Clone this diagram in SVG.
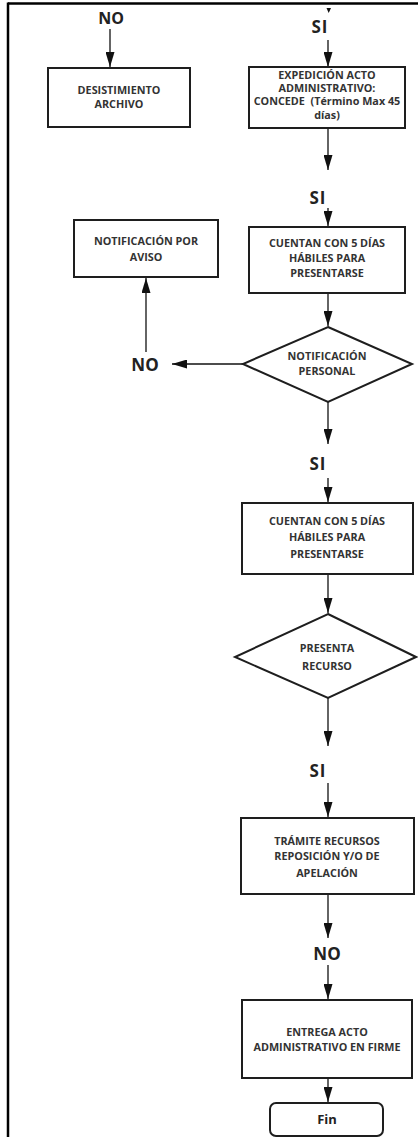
<svg xmlns="http://www.w3.org/2000/svg" width="418" height="1137" viewBox="0 0 418 1137">
<style>
.box{fill:#fff;stroke:#1e1e1e;stroke-width:2}
.t{font-family:"Open Sans","Liberation Sans",sans-serif;font-weight:bold;font-size:10.8px;fill:#333;text-anchor:middle}
.lab{font-family:"Open Sans","Liberation Sans",sans-serif;font-weight:bold;font-size:17px;fill:#222;text-anchor:middle}
.c{stroke:#111;stroke-width:1.3;fill:none;marker-end:url(#ah)}
</style>
<defs>
<marker id="ah" markerUnits="userSpaceOnUse" viewBox="0 0 15 9" refX="15" refY="4.5" markerWidth="15" markerHeight="9" orient="auto">
<path d="M0,0 L15,4.5 L0,9 z" fill="#111"/>
</marker>
</defs>
<rect width="418" height="1137" fill="#fff"/>
<g id="frame">
<line x1="8" y1="3.5" x2="418" y2="3.5" stroke="#000" stroke-width="2.5"/>
<line x1="8" y1="2.5" x2="8" y2="1137" stroke="#000" stroke-width="2.5"/>
</g>
<g id="connectors">
<path class="c" d="M110,29 V67"/>
<path d="M326.5,8 L331,8 L328.7,13 z" fill="#111"/>
<path class="c" d="M328,40 V67"/>
<path class="c" d="M328,128 V170"/>
<path class="c" d="M328,208 V226"/>
<path class="c" d="M328,293 V326"/>
<path class="c" d="M243,364 H172"/>
<path class="c" d="M146,352 V278"/>
<path class="c" d="M328,402 V444"/>
<path class="c" d="M328,478 V502"/>
<path class="c" d="M328,574 V613"/>
<path class="c" d="M328,698 V746"/>
<path class="c" d="M328,783 V817"/>
<path class="c" d="M328,895 V938"/>
<path class="c" d="M328,965 V999"/>
<path class="c" d="M328,1078 V1102"/>
</g>
<g id="labels">
<text class="lab" x="111" y="24" style="font-size:16px">NO</text>
<text class="lab" x="320" y="33" letter-spacing="1">SI</text>
<text class="lab" x="318" y="204" letter-spacing="1">SI</text>
<text class="lab" x="145" y="371">NO</text>
<text class="lab" x="318" y="470" letter-spacing="1">SI</text>
<text class="lab" x="318" y="777" letter-spacing="1">SI</text>
<text class="lab" x="327" y="960">NO</text>
</g>
<g id="desistimiento">
<rect class="box" x="48" y="68" width="142" height="59"/>
<text class="t" x="119" y="94">DESISTIMIENTO</text>
<text class="t" x="119" y="108">ARCHIVO</text>
</g>
<g id="expedicion">
<rect class="box" x="249" y="67" width="156" height="61"/>
<text class="t" x="327" y="79">EXPEDICIÓN ACTO</text>
<text class="t" x="327" y="92">ADMINISTRATIVO:</text>
<text class="t" x="327" y="105" xml:space="preserve">CONCEDE  (Término Max 45</text>
<text class="t" x="327" y="119">días)</text>
</g>
<g id="notificacion-aviso">
<rect class="box" x="74" y="220" width="144" height="57"/>
<text class="t" x="146" y="245">NOTIFICACIÓN POR</text>
<text class="t" x="146" y="261">AVISO</text>
</g>
<g id="cuentan1">
<rect class="box" x="249" y="227" width="156" height="66"/>
<text class="t" x="327" y="247">CUENTAN CON 5 DÍAS</text>
<text class="t" x="327" y="262">HÁBILES PARA</text>
<text class="t" x="327" y="277">PRESENTARSE</text>
</g>
<g id="notificacion-personal">
<polygon class="box" points="328,327 412,364 328,402 243,364"/>
<text class="t" x="327" y="360">NOTIFICACIÓN</text>
<text class="t" x="327" y="375">PERSONAL</text>
</g>
<g id="cuentan2">
<rect class="box" x="242" y="503" width="171" height="71"/>
<text class="t" x="327" y="525">CUENTAN CON 5 DÍAS</text>
<text class="t" x="327" y="541">HÁBILES PARA</text>
<text class="t" x="327" y="558">PRESENTARSE</text>
</g>
<g id="presenta-recurso">
<polygon class="box" points="328,614 416,657 328,698 235,657"/>
<text class="t" x="327" y="652">PRESENTA</text>
<text class="t" x="327" y="670">RECURSO</text>
</g>
<g id="tramite">
<rect class="box" x="241" y="818" width="173" height="76"/>
<text class="t" x="327" y="845">TRÁMITE RECURSOS</text>
<text class="t" x="327" y="860">REPOSICIÓN Y/O DE</text>
<text class="t" x="327" y="877">APELACIÓN</text>
</g>
<g id="entrega">
<rect class="box" x="242" y="1000" width="170" height="78"/>
<text class="t" x="327" y="1036">ENTREGA ACTO</text>
<text class="t" x="327" y="1051">ADMINISTRATIVO EN FIRME</text>
</g>
<g id="fin">
<rect class="box" x="270" y="1103" width="113" height="33" rx="6"/>
<text class="lab" x="327" y="1124" style="font-size:13px">Fin</text>
</g>
</svg>
